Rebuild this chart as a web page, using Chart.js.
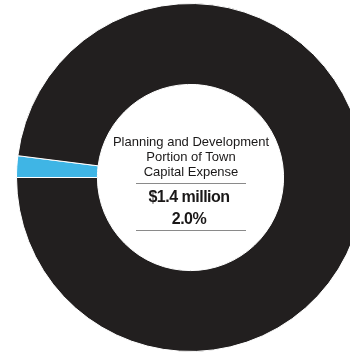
<!DOCTYPE html>
<html>
<head>
<meta charset="utf-8">
<script src="https://cdn.jsdelivr.net/npm/chart.js@4/dist/chart.umd.min.js"></script>
<style>
  html, body {
    margin: 0;
    padding: 0;
    width: 350px;
    height: 353px;
    overflow: hidden;
    background: #fff;
    font-family: "Liberation Sans", Arial, sans-serif;
  }
  .chart-box {
    position: absolute;
    left: 16px;
    top: 3px;
    width: 349px;
    height: 349px;
  }
  .center-label {
    position: absolute;
    left: 111px;
    width: 160px;
    top: 134px;
    text-align: center;
    color: #1a1818;
  }
  .center-label .title {
    font-size: 13px;
    line-height: 15px;
  }
  .center-label .rule {
    width: 110px;
    height: 0;
    border-top: 1px solid #8a8a8a;
    margin: 4px auto 0 auto;
  }
  .center-label .rule.last {
    margin-top: 0;
  }
  .center-label .value {
    position: relative;
    left: -2px;
    font-size: 16px;
    font-weight: bold;
    line-height: 22px;
    letter-spacing: -0.5px;
  }
  .center-label .value.first {
    margin-top: 2px;
  }
</style>
</head>
<body>
<div class="chart-box">
  <canvas id="shareChart" width="349" height="349"></canvas>
</div>
<div class="center-label">
  <div class="title" id="titleText"></div>
  <div class="rule"></div>
  <div class="value first" id="amountText"></div>
  <div class="value" id="shareText"></div>
  <div class="rule last"></div>
</div>
<script>
  // slices
  const categories = ["Planning and Development", "Rest of Town Capital Expense"];
  const shares = [2.0, 98.0];
  const sliceColors = ["#3fb5e5", "#221f1f"];

  // centre label
  const titleLines = ["Planning and Development", "Portion of Town", "Capital Expense"];
  const amountLabel = "$1.4 million";
  const shareLabel = "2.0%";

  document.getElementById("titleText").innerHTML = titleLines.join("<br>");
  document.getElementById("amountText").textContent = amountLabel;
  document.getElementById("shareText").textContent = shareLabel;

  const shareConfig = {
    type: "doughnut",
    data: {
      labels: categories,
      datasets: [
        {
          data: shares,
          backgroundColor: sliceColors,
          borderColor: "#ffffff",
          borderWidth: 1,
        },
      ],
    },
    options: {
      responsive: false,
      animation: false,
      cutout: "53.5%",
      rotation: 270,
      plugins: {
        legend: { display: false },
        tooltip: { enabled: false },
      },
    },
  };

  const shareChart = new Chart(document.getElementById("shareChart"), shareConfig);
</script>
</body>
</html>
